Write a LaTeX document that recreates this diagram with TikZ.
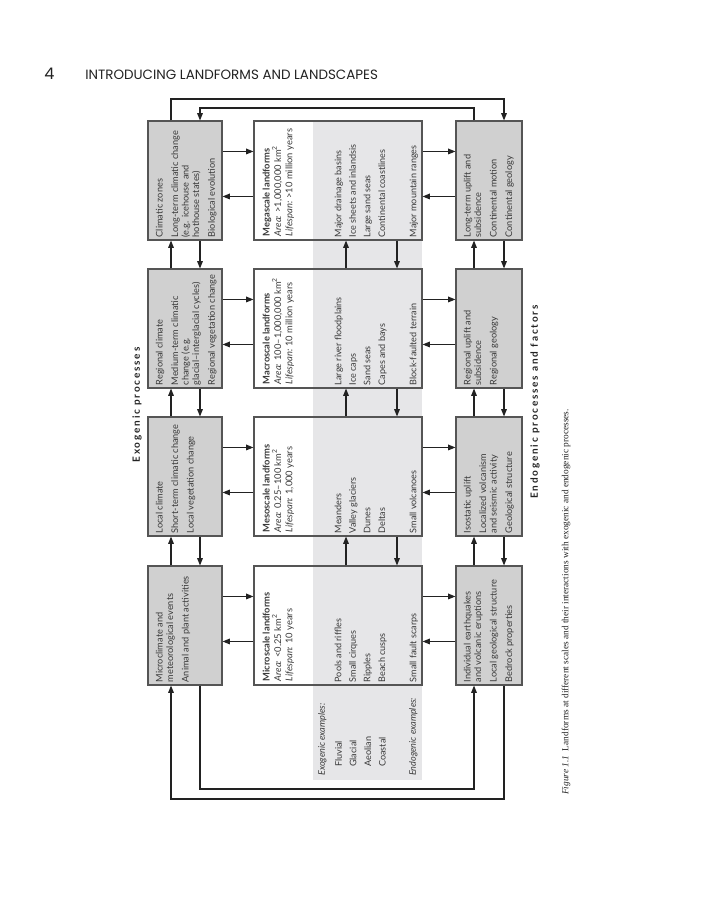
\documentclass[tikz,border=0pt]{standalone}
\usepackage{fontspec}
\setmainfont{Lato}
\newfontfamily\capfont{Liberation Serif}
\newfontfamily\headfont{Poppins}
\usetikzlibrary{arrows.meta,calc}
\definecolor{boxgrey}{HTML}{D0D0D0}
\definecolor{bandgrey}{HTML}{E6E6E8}
\definecolor{edgegrey}{HTML}{555555}
\definecolor{inkc}{HTML}{222222}
\definecolor{txtc}{HTML}{3A3A3A}
\begin{document}
\begin{tikzpicture}[x=0.75pt,y=-0.75pt,
  procbox/.style={draw=edgegrey,fill=boxgrey,line width=0.8pt,inner sep=0pt,minimum height=89.25pt},
  exobox/.style={procbox,minimum width=55.5pt},
  endobox/.style={procbox,minimum width=49.5pt},
  landbox/.style={draw=edgegrey,line width=0.8pt,inner sep=0pt,minimum height=89.25pt,minimum width=126pt,
    path picture={\fill[white] (path picture bounding box.north west) rectangle ([xshift=44.25pt]path picture bounding box.south west);}},
  boxtext/.style={rotate=90,anchor=north west,inner sep=0pt,align=left,text=txtc,font=\fontsize{6.9}{7.9}\selectfont},
  landtext/.style={boxtext,font=\fontsize{7.0}{8.5}\selectfont},
  listtext/.style={rotate=90,anchor=north west,inner sep=0pt,align=left,text=txtc,font=\fontsize{6.8}{10.9}\selectfont},
  sidelabel/.style={rotate=90,inner sep=0pt,text=inkc,font=\bfseries\fontsize{7.5}{9}\selectfont\addfontfeatures{LetterSpace=18}},
  arr/.style={draw=inkc,line width=0.9pt,-{Triangle[length=5.5pt,width=4.2pt]}},
]
\useasboundingbox (0,0) rectangle (710,900);
% header
\node[anchor=base west,inner sep=0pt,text=inkc,font=\headfont\fontsize{12}{14}\selectfont] (pnum) at (44,79) {4};
\node[anchor=base west,inner sep=0pt,text=inkc,font=\headfont\fontsize{10.1}{12}\selectfont] (ptitle) at (85,79) {INTRODUCING LANDFORMS AND LANDSCAPES};
% grey band
\fill[bandgrey] (313,121) rectangle (422,780);
% boxes
\foreach \i/\y in {1/180.5,2/328.5,3/476.5,4/625.5}{
  \node[exobox] (e\i) at (185,\y) {};
  \node[landbox] (l\i) at (338,\y) {};
  \node[endobox] (n\i) at (489,\y) {};
}
\coordinate (xeu) at (171,0);
\coordinate (xed) at (200,0);
\coordinate (xlu) at (346,0);
\coordinate (xld) at (397,0);
\coordinate (xnu) at (474,0);
\coordinate (xnd) at (504,0);
\coordinate (topo) at (0,99);
\coordinate (topi) at (0,108);
\coordinate (boti) at (0,789);
\coordinate (boto) at (0,799);
% vertical arrows
\foreach \lo/\hi in {2/1,3/2,4/3}{
  \draw[arr] (e\lo.north -| xeu) -- (e\hi.south -| xeu);
  \draw[arr] (e\hi.south -| xed) -- (e\lo.north -| xed);
  \draw[arr] (l\lo.north -| xlu) -- (l\hi.south -| xlu);
  \draw[arr] (l\hi.south -| xld) -- (l\lo.north -| xld);
  \draw[arr] (n\lo.north -| xnu) -- (n\hi.south -| xnu);
  \draw[arr] (n\hi.south -| xnd) -- (n\lo.north -| xnd);
}
% horizontal arrows
\foreach \i in {1,2,3,4}{
  \draw[arr] ($(e\i.north east)+(0,31)$) -- ($(l\i.north west)+(0,31)$);
  \draw[arr] ($(l\i.north west)+(0,76)$) -- ($(e\i.north east)+(0,76)$);
  \draw[arr] ($(l\i.north east)+(0,31)$) -- ($(n\i.north west)+(0,31)$);
  \draw[arr] ($(n\i.north west)+(0,76)$) -- ($(l\i.north east)+(0,76)$);
}
% loops
\draw[arr] (e1.north -| xeu) |- (topo -| xnd) -- (n1.north -| xnd);
\draw[arr] (n1.north -| xnu) |- (topi -| xed) -- (e1.north -| xed);
\draw[arr] (e4.south -| xed) |- (boti -| xnu) -- (n4.south -| xnu);
\draw[arr] (n4.south -| xnd) |- (boto -| xeu) -- (e4.south -| xeu);
% exogenic texts
\node[boxtext] (te1) at ($(e1.south west)+(8,-3)$) {Climatic zones\\[3.8pt]Long-term climatic change\\(e.g. icehouse and\\hothouse states)\\[3.8pt]Biological evolution};
\node[boxtext] (te2) at ($(e2.south west)+(8,-3)$) {Regional climate\\[3.8pt]Medium-term climatic\\change (e.g.\\glacial--interglacial cycles)\\[3.8pt]Regional vegetation change};
\node[boxtext] (te3) at ($(e3.south west)+(8,-3)$) {Local climate\\[3.8pt]Short-term climatic change\\[3.8pt]Local vegetation change};
\node[boxtext] (te4) at ($(e4.south west)+(8,-3)$) {Microclimate and\\meteorological events\\[3.8pt]Animal and plant activities};
% landform texts
\node[landtext] (tl1) at ($(l1.south west)+(9,-4)$) {{\bfseries Megascale landforms}\\\textit{Area:} >1,000,000 km\textsuperscript{2}\\\textit{Lifespan:} >10 million years};
\node[landtext] (tl2) at ($(l2.south west)+(9,-4)$) {{\bfseries Macroscale landforms}\\\textit{Area:} 100--1,000,000 km\textsuperscript{2}\\\textit{Lifespan:} 10 million years};
\node[landtext] (tl3) at ($(l3.south west)+(9,-4)$) {{\bfseries Mesoscale landforms}\\\textit{Area:} 0.25--100 km\textsuperscript{2}\\\textit{Lifespan:} 1,000 years};
\node[landtext] (tl4) at ($(l4.south west)+(9,-4)$) {{\bfseries Microscale landforms}\\\textit{Area:} <0.25 km\textsuperscript{2}\\\textit{Lifespan:} 10 years};
% band lists
\node[listtext] (b1) at ($(l1.south west)+(81,-3)$) {Major drainage basins\\Ice sheets and inlandsis\\Large sand seas\\Continental coastlines};
\node[listtext] (b2) at ($(l2.south west)+(81,-3)$) {Large river floodplains\\Ice caps\\Sand seas\\Capes and bays};
\node[listtext] (b3) at ($(l3.south west)+(81,-3)$) {Meanders\\Valley glaciers\\Dunes\\Deltas};
\node[listtext] (b4) at ($(l4.south west)+(81,-3)$) {Pools and riffles\\Small cirques\\Ripples\\Beach cusps};
\node[listtext] (c1) at ($(l1.south west)+(156,-3)$) {Major mountain ranges};
\node[listtext] (c2) at ($(l2.south west)+(156,-3)$) {Block-faulted terrain};
\node[listtext] (c3) at ($(l3.south west)+(156,-3)$) {Small volcanoes};
\node[listtext] (c4) at ($(l4.south west)+(156,-3)$) {Small fault scarps};
\node[listtext] (exex) at (318,776) {\itshape Exogenic examples:};
\node[listtext] (exitems) at (335,767) {Fluvial\\Glacial\\Aeolian\\Coastal};
\node[listtext] (enex) at (409,776) {\itshape Endogenic examples:};
% endogenic texts
\node[boxtext] (tn1) at ($(n1.south west)+(8,-3)$) {Long-term uplift and\\subsidence\\[3.8pt]Continental motion\\[3.8pt]Continental geology};
\node[boxtext] (tn2) at ($(n2.south west)+(8,-3)$) {Regional uplift and\\subsidence\\[3.8pt]Regional geology};
\node[boxtext] (tn3) at ($(n3.south west)+(8,-3)$) {Isostatic uplift\\[3.8pt]Localized volcanism\\and seismic activity\\[3.8pt]Geological structure};
\node[boxtext] (tn4) at ($(n4.south west)+(8,-3)$) {Individual earthquakes\\and volcanic eruptions\\[3.8pt]Local geological structure\\[3.8pt]Bedrock properties};
% side labels
\node[sidelabel] (exolab) at (137,405) {Exogenic processes};
\node[sidelabel] (endolab) at (535,402) {Endogenic processes and factors};
% caption
\node[rotate=90,anchor=west,inner sep=0pt,text=inkc,font=\capfont\fontsize{7}{8.5}\selectfont] (cap) at (566,795) {\textit{Figure 1.1}\ \ Landforms at different scales and their interactions with exogenic and endogenic processes.};
\end{tikzpicture}
\end{document}
